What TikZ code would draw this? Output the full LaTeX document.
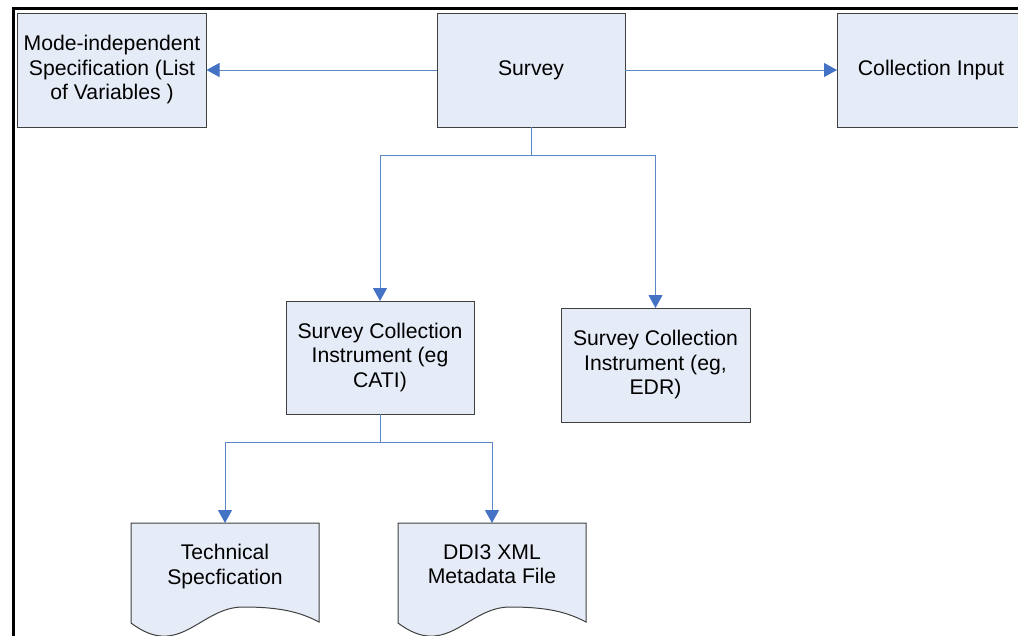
\documentclass[tikz,border=0pt]{standalone}
\usepackage{xcolor}
\usepackage{fontspec}
\setmainfont{Liberation Sans}
\usepackage{tikz}
\usetikzlibrary{arrows.meta}

\definecolor{boxfill}{HTML}{E6ECF7}
\definecolor{boxline}{HTML}{404040}
\definecolor{linkblue}{HTML}{5B87C5}
\definecolor{tipblue}{HTML}{4472C4}

\begin{document}
\begin{tikzpicture}[x=1pt,y=-1pt,
    block/.style={draw=boxline,line width=1pt,fill=boxfill,inner sep=0pt,outer sep=0pt,
        minimum width=189pt,minimum height=114pt,align=center,
        font=\fontsize{21.2}{24.5}\selectfont},
    doctext/.style={anchor=north,inner xsep=0pt,inner ysep=21.5pt,outer sep=0pt,align=center,
        font=\fontsize{21.2}{24.5}\selectfont},
    docshape/.style={draw=boxline,line width=1pt,fill=boxfill},
    linkarrow/.style={draw=linkblue,line width=1pt,
        -{Triangle[width=14pt,length=13pt,color=tipblue]}}]
            %%% CANVAS %%%
            \clip (0,0) rectangle (1018,635);
            \draw[line width=3pt] (13.5,645) -- (13.5,8.5) -- (1030,8.5);

            %%% BOXES %%%
            \node[block] (mode) at (112,70) {Mode-independent\\Specification (List\\of Variables )};
            \node[block,minimum width=188pt] (survey) at (531,70) {Survey};
            \node[block,minimum width=188pt] (input) at (931,70) {Collection Input};
            \node[block,minimum width=188pt,minimum height=113pt] (cati) at (380,357.5) {Survey Collection\\Instrument (eg\\CATI)};
            \node[block] (edr) at (655.5,365) {Survey Collection\\Instrument (eg,\\EDR)};

            %%% DOCUMENTS %%%
            \path[docshape] (131,523) -- (319,523) -- (319,622)
                .. controls (300,612) and (280,607) .. (243,607)
                .. controls (200,607) and (180,660) .. (131,623) -- cycle;
            \path[docshape] (398,523) -- (586,523) -- (586,622)
                .. controls (567,612) and (547,607) .. (510,607)
                .. controls (467,607) and (447,660) .. (398,623) -- cycle;
            \node[doctext] (tech) at (225,523) {Technical\\Specfication};
            \node[doctext] (ddi) at (492,523) {DDI3 XML\\Metadata File};

            %%% ARROWS %%%
            \draw[linkarrow] (survey.west) -- (mode.east);
            \draw[linkarrow] (survey.east) -- (input.west);
            \draw[linkarrow] (survey.south) -- ++(0,28) -| (cati.north);
            \draw[linkarrow] (survey.south) -- ++(0,28) -| (edr.north);
            \draw[linkarrow] (cati.south) -- ++(0,28) -| (tech.north);
            \draw[linkarrow] (cati.south) -- ++(0,28) -| (ddi.north);
        \end{tikzpicture}
\end{document}
